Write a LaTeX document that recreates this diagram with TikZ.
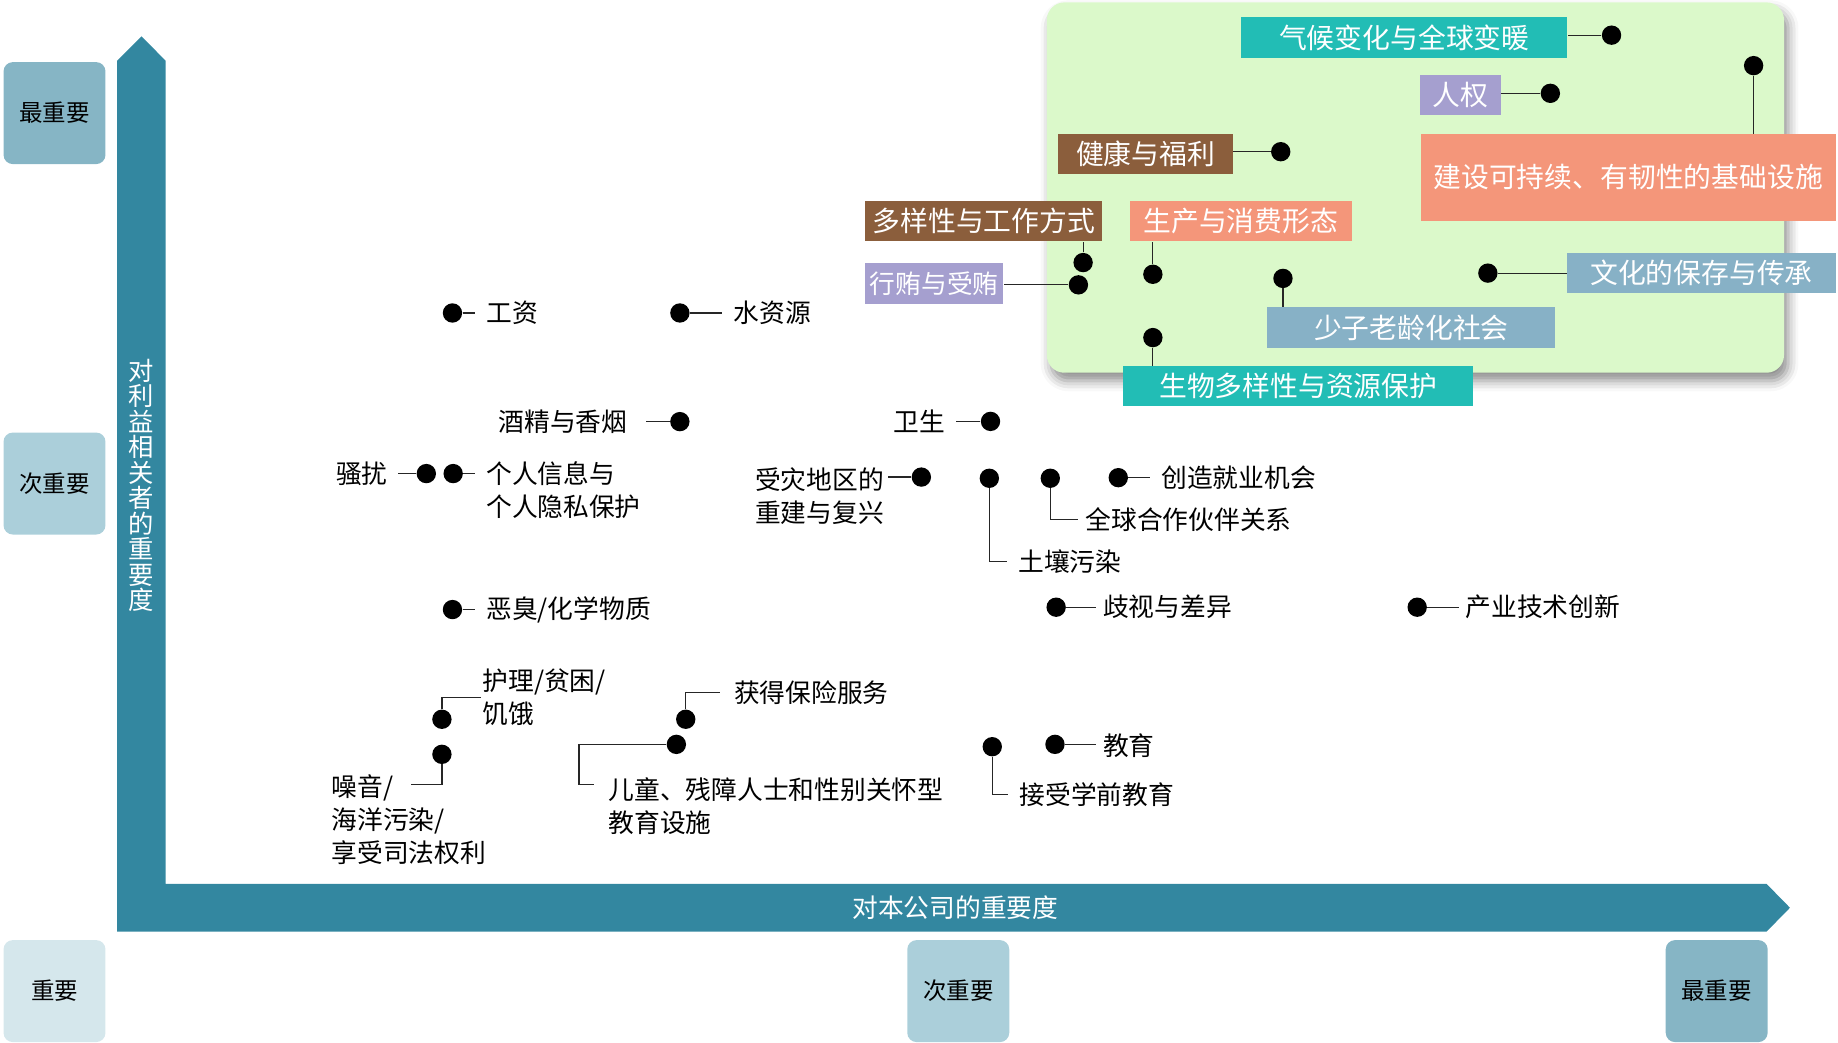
\documentclass[tikz,border=0pt]{standalone}
\usepackage{fontspec}
\setmainfont{Noto Sans CJK SC}
\usetikzlibrary{shadows.blur}

\definecolor{axisblue}{RGB}{51,135,160}
\definecolor{lvhigh}{RGB}{134,181,197}
\definecolor{lvmid}{RGB}{171,207,218}
\definecolor{lvlow}{RGB}{213,231,236}
\definecolor{zonegreen}{RGB}{219,249,202}
\definecolor{issueteal}{RGB}{34,189,181}
\definecolor{issuepurple}{RGB}{165,159,207}
\definecolor{issuebrown}{RGB}{139,94,60}
\definecolor{issuesalmon}{RGB}{244,150,122}
\definecolor{issueblue}{RGB}{135,177,198}

\begin{document}
\begin{tikzpicture}[x=0.02cm,y=-0.02cm,
	tier/.style={rectangle,rounded corners=4.5pt,minimum width=1.74cm,minimum height=1.74cm,inner sep=0pt,font=\fontsize{11.4}{13}\selectfont},
	issue/.style={rectangle,minimum height=0.69cm,inner sep=0pt,text=white,font=\fontsize{13.5}{16}\selectfont},
	topic/.style={inner sep=0pt,outer sep=5.6pt,align=left,font=\fontsize{12.5}{16}\selectfont},
	bullet/.style={circle,fill=black,minimum size=9.4pt,inner sep=0pt},
	wire/.style={black!85,line width=0.6pt}]
		\useasboundingbox (0,0) rectangle (1568,889);

		% axes
		\fill[axisblue] (100,794.8) -- (100,51.8) -- (120.7,31) -- (141.3,51.8) -- (141.3,754) -- (1507,754) -- (1527,774.4) -- (1507,794.8) -- cycle;
		\node[text=white,align=center,font=\fontsize{12.3}{12.4}\selectfont] (ylabel) at (120.7,414) {对\\利\\益\\相\\关\\者\\的\\重\\要\\度};
		\node[text=white,font=\fontsize{12.5}{15}\selectfont] (xlabel) at (815,774.4) {对本公司的重要度};

		% importance levels
		\node[tier,fill=lvhigh] (stake-high) at (46.5,96.5) {最重要};
		\node[tier,fill=lvmid] (stake-mid) at (46.5,412.5) {次重要};
		\node[tier,fill=lvlow] (base-low) at (46.5,845.5) {重要};
		\node[tier,fill=lvmid] (firm-mid) at (817.5,845.5) {次重要};
		\node[tier,fill=lvhigh] (firm-high) at (1464.5,845.5) {最重要};

		% material issues zone
		\node[rectangle,fill=zonegreen,rounded corners=0.3cm,minimum width=12.58cm,minimum height=6.32cm,
			blur shadow={shadow xshift=2pt,shadow yshift=-4pt,shadow blur radius=5pt,shadow opacity=45}] (zone) at (1207.5,160) {};

		\node[issue,fill=issueteal,minimum width=5.56cm] (climate) at (1198,32) {气候变化与全球变暖};
		\node[issue,fill=issuepurple,minimum width=1.38cm] (rights) at (1246,81) {人权};
		\node[issue,fill=issuebrown,minimum width=2.98cm] (health) at (977.3,131.5) {健康与福利};
		\node[issue,fill=issuesalmon,minimum width=7.08cm,minimum height=1.48cm] (infra) at (1389,151.3) {建设可持续、有韧性的基础设施};
		\node[issue,fill=issuebrown,minimum width=4.05cm] (diversity) at (839.3,188.5) {多样性与工作方式};
		\node[issue,fill=issuesalmon,minimum width=3.78cm] (production) at (1058.5,188.5) {生产与消费形态};
		\node[issue,fill=issuepurple,minimum width=2.36cm,font=\fontsize{12.5}{15}\selectfont] (bribery) at (797,242) {行贿与受贿};
		\node[issue,fill=issueblue,minimum width=4.58cm] (culture) at (1451.5,233) {文化的保存与传承};
		\node[issue,fill=issueblue,minimum width=4.91cm] (aging) at (1204,279.4) {少子老龄化社会};
		\node[issue,fill=issueteal,minimum width=5.98cm] (biodiv) at (1107.5,329.5) {生物多样性与资源保护};

		\node[bullet] (climate-dot) at (1374.8,30) {};
		\node[bullet] (rights-dot) at (1322.6,79.6) {};
		\node[bullet] (health-dot) at (1092.6,129.4) {};
		\node[bullet] (infra-dot) at (1496,56) {};
		\node[bullet] (diversity-dot) at (924,224) {};
		\node[bullet] (bribery-dot) at (920,243) {};
		\node[bullet] (production-dot) at (983.5,234) {};
		\node[bullet] (aging-dot) at (1094.5,237.5) {};
		\node[bullet] (culture-dot) at (1269.3,233) {};
		\node[bullet] (biodiv-dot) at (983.5,288) {};

		\draw[wire] (climate-dot) -- (climate-dot -| climate.east);
		\draw[wire] (rights-dot) -- (rights-dot -| rights.east);
		\draw[wire] (health-dot) -- (health-dot -| health.east);
		\draw[wire] (infra-dot) -- (infra-dot |- infra.north);
		\draw[wire] (diversity-dot) -- (diversity-dot |- diversity.south);
		\draw[wire] (bribery-dot) -- (bribery-dot -| bribery.east);
		\draw[wire] (production-dot) -- (production-dot |- production.south);
		\draw[wire] (aging-dot) -- (aging-dot |- aging.north);
		\draw[wire] (culture-dot) -- (culture-dot -| culture.west);
		\draw[wire] (biodiv-dot) -- (biodiv-dot |- biodiv.north);

		% other issues
		\node[bullet] (wage-dot) at (386,267) {};
		\node[topic,anchor=west] (wage) at (405,267) {工资};
		\node[bullet] (water-dot) at (580,267) {};
		\node[topic,anchor=west] (water) at (616,267) {水资源};
		\node[bullet] (alcohol-dot) at (580,359.7) {};
		\node[topic,anchor=east,outer sep=9pt] (alcohol) at (551,359.7) {酒精与香烟};
		\node[bullet] (hygiene-dot) at (845,359.5) {};
		\node[topic,anchor=east,outer sep=5.2pt] (hygiene) at (815.6,359.5) {卫生};
		\node[bullet] (harass-dot) at (363.7,404) {};
		\node[topic,anchor=east,outer sep=5.2pt] (harass) at (339.7,404) {骚扰};
		\node[bullet] (privacy-dot) at (386.6,404) {};
		\node[topic,anchor=west] (privacy) at (405,418.5) {个人信息与\\个人隐私保护};
		\node[bullet] (disaster-dot) at (786,407) {};
		\node[topic,anchor=east,outer sep=2pt] (disaster) at (757.6,423) {受灾地区的\\重建与复兴};
		\node[bullet] (soil-dot) at (844,408) {};
		\node[topic,anchor=west] (soil) at (859,479) {土壤污染};
		\node[bullet] (partner-dot) at (896,408) {};
		\node[topic,anchor=west,outer sep=3.5pt] (partner) at (920,443) {全球合作伙伴关系};
		\node[bullet] (jobs-dot) at (954,407.5) {};
		\node[topic,anchor=west] (jobs) at (981,407.5) {创造就业机会};
		\node[bullet] (odor-dot) at (386,520) {};
		\node[topic,anchor=west] (odor) at (405,520) {恶臭/化学物质};
		\node[bullet] (discrim-dot) at (901,518) {};
		\node[topic,anchor=west,outer sep=3.5pt] (discrim) at (935,518) {歧视与差异};
		\node[bullet] (industry-dot) at (1209,518) {};
		\node[topic,anchor=west,outer sep=3pt] (industry) at (1245,518) {产业技术创新};
		\node[bullet] (care-dot) at (377,613.6) {};
		\node[topic,anchor=west,outer sep=1pt] (care) at (410,594.8) {护理/贫困/\\饥饿};
		\node[bullet] (noise-dot) at (377,643.5) {};
		\node[topic,anchor=west,outer sep=0pt] (noise) at (283,699) {噪音/\\海洋污染/\\享受司法权利};
		\coordinate (noise-end) at (351,669);
		\node[bullet] (insurance-dot) at (585,613.6) {};
		\node[topic,anchor=west,outer sep=7pt] (insurance) at (614,591) {获得保险服务};
		\node[bullet] (kids-dot) at (577,635) {};
		\node[topic,anchor=west,outer sep=7pt] (kids) at (507,687.5) {儿童、残障人士和性别关怀型\\教育设施};
		\coordinate (kids-bend) at (494,669);
		\node[bullet] (preschool-dot) at (846.5,637) {};
		\node[topic,anchor=west] (preschool) at (860,678) {接受学前教育};
		\node[bullet] (edu-dot) at (900,635) {};
		\node[topic,anchor=west,outer sep=3.5pt] (edu) at (935,636) {教育};

		\draw[wire] (wage-dot) -- (wage-dot -| wage.west);
		\draw[wire] (water-dot) -- (water-dot -| water.west);
		\draw[wire] (alcohol-dot) -- (alcohol-dot -| alcohol.east);
		\draw[wire] (hygiene-dot) -- (hygiene-dot -| hygiene.east);
		\draw[wire] (harass-dot) -- (harass-dot -| harass.east);
		\draw[wire] (privacy-dot) -- (privacy-dot -| privacy.west);
		\draw[wire] (disaster-dot) -- (disaster-dot -| disaster.east);
		\draw[wire] (soil-dot) |- (soil.west);
		\draw[wire] (partner-dot) |- (partner.west);
		\draw[wire] (jobs-dot) -- (jobs-dot -| jobs.west);
		\draw[wire] (odor-dot) -- (odor-dot -| odor.west);
		\draw[wire] (discrim-dot) -- (discrim-dot -| discrim.west);
		\draw[wire] (industry-dot) -- (industry-dot -| industry.west);
		\draw[wire] (care-dot) |- (care.west);
		\draw[wire] (noise-dot) |- (noise-end);
		\draw[wire] (insurance-dot) |- (insurance.west);
		\draw[wire] (kids-dot) -| (kids-bend) -- (kids-bend -| kids.west);
		\draw[wire] (preschool-dot) |- (preschool.west);
		\draw[wire] (edu-dot) -- (edu-dot -| edu.west);
	\end{tikzpicture}
\end{document}
